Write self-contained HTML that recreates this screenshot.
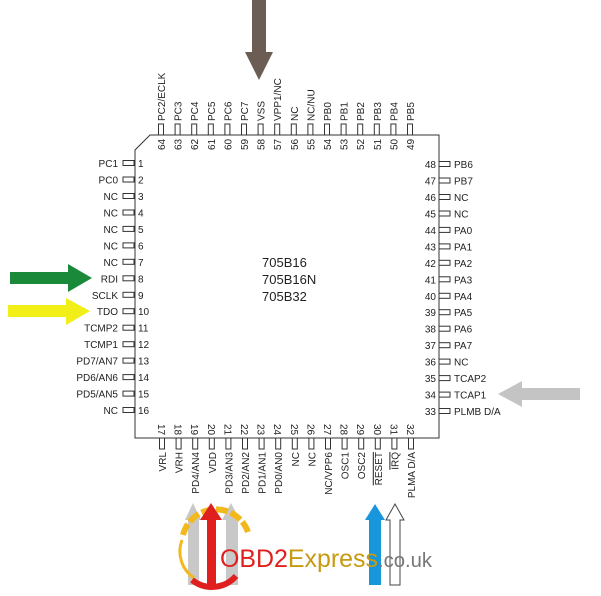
<!DOCTYPE html>
<html><head><meta charset="utf-8"><style>
html,body{margin:0;padding:0;background:#fff;}
svg{display:block;font-family:"Liberation Sans",Arial,sans-serif;}
</style></head><body>
<svg width="601" height="596" viewBox="0 0 601 596" xmlns="http://www.w3.org/2000/svg">
<g fill="none" stroke="#333" stroke-width="1">
<path d="M150 135 H439 V438 H135 V150 Z"/>
</g>
<g font-size="10" fill="#222">
<g>
<rect x="123" y="160.5" width="11" height="5" fill="none" stroke="#333"/><text x="118" y="167" text-anchor="end">PC1</text><text x="138" y="167">1</text>
<rect x="123" y="177" width="11" height="5" fill="none" stroke="#333"/><text x="118" y="183.5" text-anchor="end">PC0</text><text x="138" y="183.5">2</text>
<rect x="123" y="193.5" width="11" height="5" fill="none" stroke="#333"/><text x="118" y="200" text-anchor="end">NC</text><text x="138" y="200">3</text>
<rect x="123" y="210" width="11" height="5" fill="none" stroke="#333"/><text x="118" y="216.4" text-anchor="end">NC</text><text x="138" y="216.4">4</text>
<rect x="123" y="226.4" width="11" height="5" fill="none" stroke="#333"/><text x="118" y="232.9" text-anchor="end">NC</text><text x="138" y="232.9">5</text>
<rect x="123" y="242.9" width="11" height="5" fill="none" stroke="#333"/><text x="118" y="249.4" text-anchor="end">NC</text><text x="138" y="249.4">6</text>
<rect x="123" y="259.3" width="11" height="5" fill="none" stroke="#333"/><text x="118" y="265.8" text-anchor="end">NC</text><text x="138" y="265.8">7</text>
<rect x="123" y="275.8" width="11" height="5" fill="none" stroke="#333"/><text x="118" y="282.3" text-anchor="end">RDI</text><text x="138" y="282.3">8</text>
<rect x="123" y="292.3" width="11" height="5" fill="none" stroke="#333"/><text x="118" y="298.8" text-anchor="end">SCLK</text><text x="138" y="298.8">9</text>
<rect x="123" y="308.7" width="11" height="5" fill="none" stroke="#333"/><text x="118" y="315.2" text-anchor="end">TDO</text><text x="138" y="315.2">10</text>
<rect x="123" y="325.2" width="11" height="5" fill="none" stroke="#333"/><text x="118" y="331.7" text-anchor="end">TCMP2</text><text x="138" y="331.7">11</text>
<rect x="123" y="341.7" width="11" height="5" fill="none" stroke="#333"/><text x="118" y="348.2" text-anchor="end">TCMP1</text><text x="138" y="348.2">12</text>
<rect x="123" y="358.1" width="11" height="5" fill="none" stroke="#333"/><text x="118" y="364.6" text-anchor="end">PD7/AN7</text><text x="138" y="364.6">13</text>
<rect x="123" y="374.6" width="11" height="5" fill="none" stroke="#333"/><text x="118" y="381.1" text-anchor="end">PD6/AN6</text><text x="138" y="381.1">14</text>
<rect x="123" y="391.1" width="11" height="5" fill="none" stroke="#333"/><text x="118" y="397.6" text-anchor="end">PD5/AN5</text><text x="138" y="397.6">15</text>
<rect x="123" y="407.5" width="11" height="5" fill="none" stroke="#333"/><text x="118" y="414" text-anchor="end">NC</text><text x="138" y="414">16</text>
</g>
<g>
<rect x="439" y="161.5" width="11" height="5" fill="none" stroke="#333"/><text x="454" y="168">PB6</text><text x="436" y="168" text-anchor="end">48</text>
<rect x="439" y="178" width="11" height="5" fill="none" stroke="#333"/><text x="454" y="184.5">PB7</text><text x="436" y="184.5" text-anchor="end">47</text>
<rect x="439" y="194.5" width="11" height="5" fill="none" stroke="#333"/><text x="454" y="201">NC</text><text x="436" y="201" text-anchor="end">46</text>
<rect x="439" y="211" width="11" height="5" fill="none" stroke="#333"/><text x="454" y="217.4">NC</text><text x="436" y="217.4" text-anchor="end">45</text>
<rect x="439" y="227.4" width="11" height="5" fill="none" stroke="#333"/><text x="454" y="233.9">PA0</text><text x="436" y="233.9" text-anchor="end">44</text>
<rect x="439" y="243.9" width="11" height="5" fill="none" stroke="#333"/><text x="454" y="250.4">PA1</text><text x="436" y="250.4" text-anchor="end">43</text>
<rect x="439" y="260.3" width="11" height="5" fill="none" stroke="#333"/><text x="454" y="266.8">PA2</text><text x="436" y="266.8" text-anchor="end">42</text>
<rect x="439" y="276.8" width="11" height="5" fill="none" stroke="#333"/><text x="454" y="283.3">PA3</text><text x="436" y="283.3" text-anchor="end">41</text>
<rect x="439" y="293.3" width="11" height="5" fill="none" stroke="#333"/><text x="454" y="299.8">PA4</text><text x="436" y="299.8" text-anchor="end">40</text>
<rect x="439" y="309.7" width="11" height="5" fill="none" stroke="#333"/><text x="454" y="316.2">PA5</text><text x="436" y="316.2" text-anchor="end">39</text>
<rect x="439" y="326.2" width="11" height="5" fill="none" stroke="#333"/><text x="454" y="332.7">PA6</text><text x="436" y="332.7" text-anchor="end">38</text>
<rect x="439" y="342.7" width="11" height="5" fill="none" stroke="#333"/><text x="454" y="349.2">PA7</text><text x="436" y="349.2" text-anchor="end">37</text>
<rect x="439" y="359.1" width="11" height="5" fill="none" stroke="#333"/><text x="454" y="365.6">NC</text><text x="436" y="365.6" text-anchor="end">36</text>
<rect x="439" y="375.6" width="11" height="5" fill="none" stroke="#333"/><text x="454" y="382.1">TCAP2</text><text x="436" y="382.1" text-anchor="end">35</text>
<rect x="439" y="392.1" width="11" height="5" fill="none" stroke="#333"/><text x="454" y="398.6">TCAP1</text><text x="436" y="398.6" text-anchor="end">34</text>
<rect x="439" y="408.5" width="11" height="5" fill="none" stroke="#333"/><text x="454" y="415">PLMB D/A</text><text x="436" y="415" text-anchor="end">33</text>
</g>
<g>
<rect x="158.5" y="124" width="5" height="11" fill="none" stroke="#333"/><text transform="translate(165,121) rotate(-90)">PC2/ECLK</text><text transform="translate(165,150) rotate(-90)">64</text>
<rect x="175.1" y="124" width="5" height="11" fill="none" stroke="#333"/><text transform="translate(181.6,121) rotate(-90)">PC3</text><text transform="translate(181.6,150) rotate(-90)">63</text>
<rect x="191.7" y="124" width="5" height="11" fill="none" stroke="#333"/><text transform="translate(198.2,121) rotate(-90)">PC4</text><text transform="translate(198.2,150) rotate(-90)">62</text>
<rect x="208.3" y="124" width="5" height="11" fill="none" stroke="#333"/><text transform="translate(214.8,121) rotate(-90)">PC5</text><text transform="translate(214.8,150) rotate(-90)">61</text>
<rect x="224.9" y="124" width="5" height="11" fill="none" stroke="#333"/><text transform="translate(231.4,121) rotate(-90)">PC6</text><text transform="translate(231.4,150) rotate(-90)">60</text>
<rect x="241.5" y="124" width="5" height="11" fill="none" stroke="#333"/><text transform="translate(248,121) rotate(-90)">PC7</text><text transform="translate(248,150) rotate(-90)">59</text>
<rect x="258.1" y="124" width="5" height="11" fill="none" stroke="#333"/><text transform="translate(264.6,121) rotate(-90)">VSS</text><text transform="translate(264.6,150) rotate(-90)">58</text>
<rect x="274.7" y="124" width="5" height="11" fill="none" stroke="#333"/><text transform="translate(281.2,121) rotate(-90)">VPP1/NC</text><text transform="translate(281.2,150) rotate(-90)">57</text>
<rect x="291.3" y="124" width="5" height="11" fill="none" stroke="#333"/><text transform="translate(297.8,121) rotate(-90)">NC</text><text transform="translate(297.8,150) rotate(-90)">56</text>
<rect x="307.9" y="124" width="5" height="11" fill="none" stroke="#333"/><text transform="translate(314.4,121) rotate(-90)">NC/NU</text><text transform="translate(314.4,150) rotate(-90)">55</text>
<rect x="324.5" y="124" width="5" height="11" fill="none" stroke="#333"/><text transform="translate(331,121) rotate(-90)">PB0</text><text transform="translate(331,150) rotate(-90)">54</text>
<rect x="341.1" y="124" width="5" height="11" fill="none" stroke="#333"/><text transform="translate(347.6,121) rotate(-90)">PB1</text><text transform="translate(347.6,150) rotate(-90)">53</text>
<rect x="357.7" y="124" width="5" height="11" fill="none" stroke="#333"/><text transform="translate(364.2,121) rotate(-90)">PB2</text><text transform="translate(364.2,150) rotate(-90)">52</text>
<rect x="374.3" y="124" width="5" height="11" fill="none" stroke="#333"/><text transform="translate(380.8,121) rotate(-90)">PB3</text><text transform="translate(380.8,150) rotate(-90)">51</text>
<rect x="390.9" y="124" width="5" height="11" fill="none" stroke="#333"/><text transform="translate(397.4,121) rotate(-90)">PB4</text><text transform="translate(397.4,150) rotate(-90)">50</text>
<rect x="407.5" y="124" width="5" height="11" fill="none" stroke="#333"/><text transform="translate(414,121) rotate(-90)">PB5</text><text transform="translate(414,150) rotate(-90)">49</text>
</g>
<g>
<rect x="159.5" y="438" width="5" height="11" fill="none" stroke="#333"/><text transform="translate(166,452) rotate(-90)" text-anchor="end">VRL</text><text transform="translate(158,424) rotate(90)">17</text>
<rect x="176.1" y="438" width="5" height="11" fill="none" stroke="#333"/><text transform="translate(182.6,452) rotate(-90)" text-anchor="end">VRH</text><text transform="translate(174.6,424) rotate(90)">18</text>
<rect x="192.7" y="438" width="5" height="11" fill="none" stroke="#333"/><text transform="translate(199.2,452) rotate(-90)" text-anchor="end">PD4/AN4</text><text transform="translate(191.2,424) rotate(90)">19</text>
<rect x="209.3" y="438" width="5" height="11" fill="none" stroke="#333"/><text transform="translate(215.8,452) rotate(-90)" text-anchor="end">VDD</text><text transform="translate(207.8,424) rotate(90)">20</text>
<rect x="225.9" y="438" width="5" height="11" fill="none" stroke="#333"/><text transform="translate(232.4,452) rotate(-90)" text-anchor="end">PD3/AN3</text><text transform="translate(224.4,424) rotate(90)">21</text>
<rect x="242.5" y="438" width="5" height="11" fill="none" stroke="#333"/><text transform="translate(249,452) rotate(-90)" text-anchor="end">PD2/AN2</text><text transform="translate(241,424) rotate(90)">22</text>
<rect x="259.1" y="438" width="5" height="11" fill="none" stroke="#333"/><text transform="translate(265.6,452) rotate(-90)" text-anchor="end">PD1/AN1</text><text transform="translate(257.6,424) rotate(90)">23</text>
<rect x="275.7" y="438" width="5" height="11" fill="none" stroke="#333"/><text transform="translate(282.2,452) rotate(-90)" text-anchor="end">PD0/AN0</text><text transform="translate(274.2,424) rotate(90)">24</text>
<rect x="292.3" y="438" width="5" height="11" fill="none" stroke="#333"/><text transform="translate(298.8,452) rotate(-90)" text-anchor="end">NC</text><text transform="translate(290.8,424) rotate(90)">25</text>
<rect x="308.9" y="438" width="5" height="11" fill="none" stroke="#333"/><text transform="translate(315.4,452) rotate(-90)" text-anchor="end">NC</text><text transform="translate(307.4,424) rotate(90)">26</text>
<rect x="325.5" y="438" width="5" height="11" fill="none" stroke="#333"/><text transform="translate(332,452) rotate(-90)" text-anchor="end">NC/VPP6</text><text transform="translate(324,424) rotate(90)">27</text>
<rect x="342.1" y="438" width="5" height="11" fill="none" stroke="#333"/><text transform="translate(348.6,452) rotate(-90)" text-anchor="end">OSC1</text><text transform="translate(340.6,424) rotate(90)">28</text>
<rect x="358.7" y="438" width="5" height="11" fill="none" stroke="#333"/><text transform="translate(365.2,452) rotate(-90)" text-anchor="end">OSC2</text><text transform="translate(357.2,424) rotate(90)">29</text>
<rect x="375.3" y="438" width="5" height="11" fill="none" stroke="#333"/><text transform="translate(381.8,452) rotate(-90)" text-anchor="end" text-decoration="overline">RESET</text><text transform="translate(373.8,424) rotate(90)">30</text>
<rect x="391.9" y="438" width="5" height="11" fill="none" stroke="#333"/><text transform="translate(398.4,452) rotate(-90)" text-anchor="end" text-decoration="overline">IRQ</text><text transform="translate(390.4,424) rotate(90)">31</text>
<rect x="408.5" y="438" width="5" height="11" fill="none" stroke="#333"/><text transform="translate(415,452) rotate(-90)" text-anchor="end">PLMA D/A</text><text transform="translate(407,424) rotate(90)">32</text>
</g>
</g>
<g font-size="13" fill="#222">
<text x="262" y="267">705B16</text>
<text x="262" y="284">705B16N</text>
<text x="262" y="301">705B32</text>
</g>
<polygon points="252,0 266,0 266,52 273,52 259,80 245,52 252,52" fill="#6b5d53"/>
<polygon points="10,272 68,272 68,264 92,278 68,292 68,284 10,284" fill="#1a8a3a"/>
<polygon points="8,305 66,305 66,298 90,311 66,325 66,317 8,317" fill="#f2ee17"/>
<polygon points="580,388 522,388 522,381 498,394 522,407 522,400 580,400" fill="#c4c4c4"/>
<polygon points="188,585 188,520 185,520 193,503 201,520 199,520 199,585" fill="#c8c8c8"/>
<polygon points="226,585 226,520 222,520 231,503 240,520 238,520 238,585" fill="#c8c8c8"/>
<path d="M183 535 A34 34 0 0 1 248 532" fill="none" stroke="#f2b81c" stroke-width="6" stroke-dasharray="12 3"/>
<path d="M182 540 A32 32 0 0 0 194 578" fill="none" stroke="#f2b81c" stroke-width="3"/>
<polygon points="207,585 207,520 200,520 211,503 222,520 216,520 216,585" fill="#e0201e"/>
<path d="M192 580 A32 32 0 0 0 236 576" fill="none" stroke="#e0201e" stroke-width="6"/>
<polygon points="369,585 369,520 365,520 375,504 385,520 381,520 381,585" fill="#1896dc"/>
<polygon points="390,585 390,520 386,520 395,504 404,520 400,520 400,585" fill="#fff" stroke="#444" stroke-width="1"/>
<text x="220" y="567" font-size="25" fill="#e0201e" textLength="158" lengthAdjust="spacingAndGlyphs">OBD2<tspan fill="#c89a10">Express</tspan></text>
<text x="378" y="567" font-size="20" fill="#777" textLength="54" lengthAdjust="spacingAndGlyphs">.co.uk</text>
</svg>
</body></html>
